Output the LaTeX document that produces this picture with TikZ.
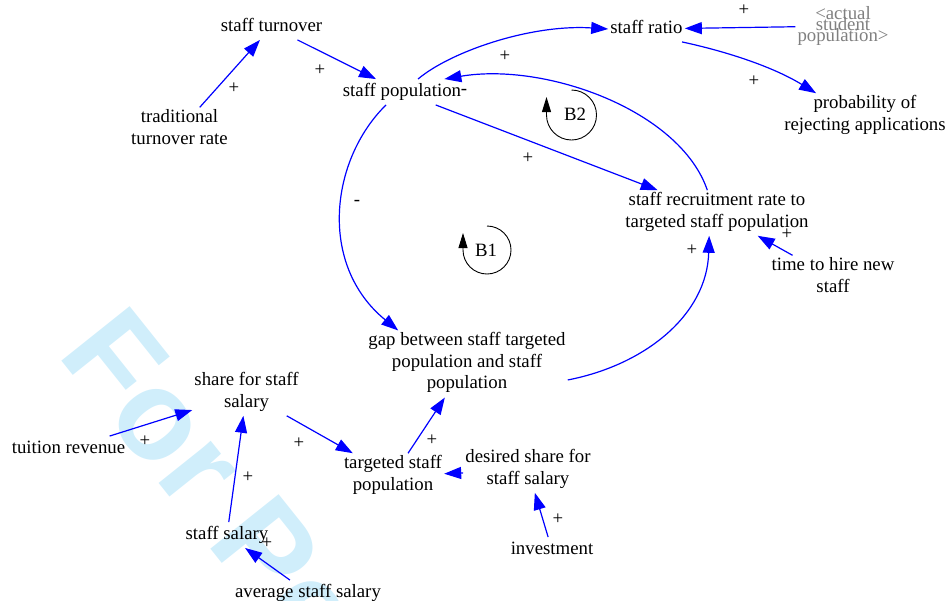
\documentclass[tikz,border=0pt]{standalone}
\usepackage{fontspec}
\setmainfont{Liberation Serif}
\newfontfamily\wmfamily{Liberation Sans}
\usetikzlibrary{arrows.meta}

\definecolor{linkblue}{RGB}{0,0,255}
\definecolor{wmblue}{RGB}{208,238,251}
\definecolor{shadowgray}{RGB}{128,128,128}

\newcommand{\varfont}{\fontsize{18.8}{21.5}\selectfont}
% shadow variables are set with tightly packed, overlapping lines
\newcommand{\shadowfont}{\fontsize{18.8}{11.2}\selectfont\lineskiplimit=-100pt\lineskip=0pt}

\tikzset{
  var/.style={align=center, inner sep=2pt, font=\varfont,
    execute at begin node=\strut, execute at end node=\strut},
  shadowvar/.style={align=center, inner sep=2pt, text=shadowgray,
    font=\shadowfont},
  pol/.style={inner sep=0pt, font=\varfont},
  link/.style={draw=linkblue, line width=1.2pt,
    -{Triangle[length=17pt,width=12pt]}},
  looparrow/.style={draw=black, line width=0.9pt,
    -{Triangle[length=15pt,width=9pt]}},
  looplabel/.style={inner sep=0pt, font=\varfont},
  wm/.style={anchor=base west, inner sep=0pt, rotate=-51.4, text=wmblue,
    font=\wmfamily\bfseries\fontsize{127}{127}\selectfont}
}

\begin{document}
\begin{tikzpicture}[x=1pt,y=-1pt]
\useasboundingbox (0,0) rectangle (950,600);

% background stamp
\begin{scope}
  \clip (0,0) rectangle (950,600);
  \node[wm] (mark) at (56.2,354.7) {For Pe};
\end{scope}

% variables
\node[var] (st)   at (271.5,27)  {staff turnover};
\node[var] (ttr)  at (179.5,130) {traditional\\turnover rate};
\node[var] (sp)   at (402,92)    {staff population};
\node[var] (sr)   at (646.5,29)  {staff ratio};
\node[shadowvar] (asp) at (843,26) {<actual\\student\\population>};
\node[var] (pra)  at (865,116)   {probability of\\rejecting applications};
\node[var] (srr)  at (717,213)   {staff recruitment rate to\\targeted staff population};
\node[var] (thn)  at (833,278)   {time to hire new\\staff};
\node[var] (gap)  at (467,364)   {gap between staff targeted\\population and staff\\population};
\node[var] (ssal) at (246.5,393) {share for staff\\salary};
\node[var] (tr)   at (68.5,449)  {tuition revenue};
\node[var] (tsp)  at (393,476)   {targeted staff\\population};
\node[var] (dss)  at (528,470)   {desired share for\\staff salary};
\node[var] (ss)   at (227,535)   {staff salary};
\node[var] (ass)  at (308,593)   {average staff salary};
\node[var] (inv)  at (552,550)   {investment};

% straight links
\draw[link] (ttr) -- (st);
\draw[link] (st) -- (sp);
\draw[link] (asp) -- (sr);
\draw[link] (sp) -- (srr);
\draw[link] (thn) -- (srr);
\draw[link] (tr) -- (ssal);
\draw[link] (ss) -- (ssal);
\draw[link] (ass) -- (ss);
\draw[link] (ssal) -- (tsp);
\draw[link] (tsp) -- (gap);
\draw[link] (dss) -- (tsp);
\draw[link] (inv) -- (dss);

% curved links
\draw[link] (sp.39) .. controls (450,52) and (530,24) .. (sr.west);
\draw[link] (srr.113) .. controls (680,110) and (545,62) .. (sp.17);
\draw[link] (sp.219) .. controls (330,160) and (318,265) .. (gap.154);
\draw[link] (gap.-9) .. controls (645,365) and (707,315) .. (srr.251);
\draw[link] (sr.-20) .. controls (720,50) and (770,65) .. (pra.155);

% link polarities
\node[pol] (p1)  at (234,88)  {+};
\node[pol] (p2)  at (320,70)  {+};
\node[pol] (p3)  at (505,56)  {+};
\node[pol] (p4)  at (744,10)  {+};
\node[pol] (p5)  at (754,81)  {+};
\node[pol] (p6)  at (464,92)  {-};
\node[pol] (p7)  at (528,158) {+};
\node[pol] (p8)  at (357,203) {-};
\node[pol] (p9)  at (692,250) {+};
\node[pol] (p10) at (787,234) {+};
\node[pol] (p11) at (145,441) {+};
\node[pol] (p12) at (248,477) {+};
\node[pol] (p13) at (267,543) {+};
\node[pol] (p14) at (299,443) {+};
\node[pol] (p15) at (432,440) {+};
\node[pol] (p16) at (558,519) {+};

% loop markers
\coordinate (l1) at (487,250);
\coordinate (l2) at (571.5,115);
\node[looplabel] (b1) at (486,250) {B1};
\node[looplabel] (b2) at (575,114) {B2};
\draw[looparrow] ([yshift=24pt]l1) arc[start angle=-90, end angle=180, radius=24] -- ++(0,-17);
\draw[looparrow] ([yshift=25pt]l2) arc[start angle=-90, end angle=180, radius=25] -- ++(0,-18);

\end{tikzpicture}
\end{document}
